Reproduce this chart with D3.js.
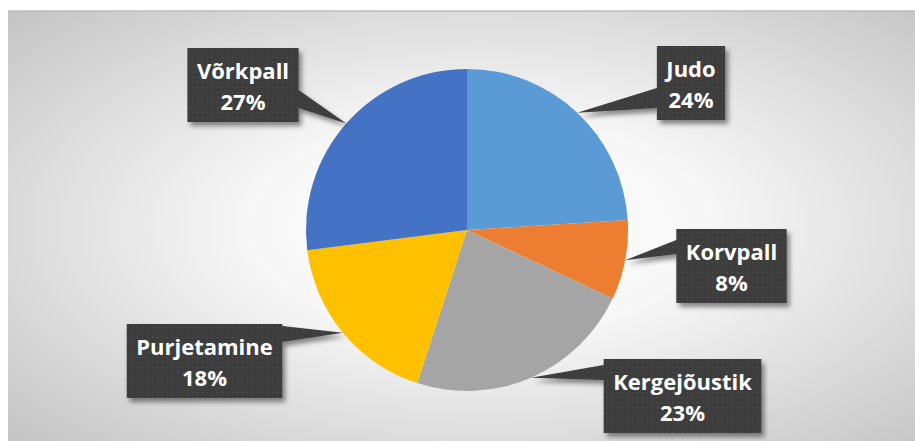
<!DOCTYPE html>
<html>
<head>
<meta charset="utf-8">
<script src="https://cdn.jsdelivr.net/npm/d3@7"></script>
<style>
  html, body { margin: 0; padding: 0; background: #fff; }
  #canvas { width: 915px; height: 441px; }
</style>
</head>
<body>
<div id="canvas"></div>
<script>
// ----- data -----
const sports = ['Judo', 'Korvpall', 'Kergejõustik', 'Purjetamine', 'Võrkpall'];
const shares = [24, 8, 23, 18, 27];
const colors = ['#5B9BD5', '#ED7D31', '#A5A5A5', '#FFC000', '#4472C4'];

// callout layout (box centre x, box top, wedge base from/to as offset from box top)
const boxCx = [691, 731.5, 682.5, 204.5, 243];
const boxTop = [46, 229, 359, 324, 48];
const wedgeBase = [[42, 62], [11, 25], [6, 21], [2, 18], [42, 60]];

const width = 915, height = 441;
const cx = 467, cy = 230, radius = 161;

const svg = d3.select('#canvas')
  .append('svg')
  .attr('width', width)
  .attr('height', height);

const defs = svg.append('defs');

// background gradient
const grad = defs.append('radialGradient')
  .attr('id', 'bg')
  .attr('cx', '0.52').attr('cy', '0.5').attr('r', '0.72');
grad.append('stop').attr('offset', '0%').attr('stop-color', '#ffffff');
grad.append('stop').attr('offset', '35%').attr('stop-color', '#f7f7f7');
grad.append('stop').attr('offset', '100%').attr('stop-color', '#c4c4c4');

// dotted pattern for the callouts
const pat = defs.append('pattern')
  .attr('id', 'dots')
  .attr('width', 5).attr('height', 5)
  .attr('patternUnits', 'userSpaceOnUse');
pat.append('rect').attr('width', 5).attr('height', 5).attr('fill', '#3d3d3d');
pat.append('rect').attr('x', 2).attr('y', 2).attr('width', 1).attr('height', 1).attr('fill', '#555');

const shadow = defs.append('filter')
  .attr('id', 'shadow')
  .attr('x', '-20%').attr('y', '-20%').attr('width', '140%').attr('height', '150%');
shadow.append('feDropShadow')
  .attr('dx', 3).attr('dy', 4).attr('stdDeviation', 2.5)
  .attr('flood-color', '#000').attr('flood-opacity', 0.45);

// plot area background
svg.append('rect')
  .attr('x', 8).attr('y', 11)
  .attr('width', width - 8).attr('height', height - 11)
  .attr('fill', 'url(#bg)');
svg.append('line')
  .attr('x1', 8).attr('x2', width)
  .attr('y1', 11).attr('y2', 11)
  .attr('stroke', '#bdbdbd').attr('stroke-width', 1.5);

// ----- pie -----
const pie = d3.pie().sort(null).value(d => d);
const arcs = pie(shares);

const arc = d3.arc().innerRadius(0).outerRadius(radius);
const edgeArc = d3.arc().innerRadius(radius).outerRadius(radius);

const g = svg.append('g')
  .attr('transform', `translate(${cx},${cy})`);

g.selectAll('path.slice')
  .data(arcs)
  .join('path')
  .attr('class', 'slice')
  .attr('fill', (d, i) => colors[i])
  .attr('d', arc);

// ----- callouts -----
const total = d3.sum(shares);
const pct = d3.format('.0%');

const labels = svg.append('g').attr('class', 'callouts');

arcs.forEach((d, i) => {
  const [tx, ty] = edgeArc.centroid(d);
  const tipX = cx + tx, tipY = cy + ty;

  const grp = labels.append('g');

  // text first so we can size the box
  const t1 = grp.append('text')
    .attr('x', boxCx[i]).attr('y', boxTop[i] + 31)
    .attr('text-anchor', 'middle')
    .style('font', 'bold 22px "Open Sans", sans-serif')
    .attr('fill', '#fff')
    .text(sports[i]);
  const t2 = grp.append('text')
    .attr('x', boxCx[i]).attr('y', boxTop[i] + 62)
    .attr('text-anchor', 'middle')
    .style('font', 'bold 22px "Open Sans", sans-serif')
    .attr('fill', '#fff')
    .text(pct(shares[i] / total));

  const w = Math.max(t1.node().getComputedTextLength(), t2.node().getComputedTextLength()) + 19;
  const h = 74;
  const x0 = boxCx[i] - w / 2, x1 = boxCx[i] + w / 2;
  const y0 = boxTop[i], y1 = boxTop[i] + h;
  const b0 = y0 + wedgeBase[i][0], b1 = y0 + wedgeBase[i][1];

  let p = d3.path();
  if (tipX > x1) {
    // wedge on right edge
    p.moveTo(x0, y0); p.lineTo(x1, y0); p.lineTo(x1, b0);
    p.lineTo(tipX, tipY); p.lineTo(x1, b1);
    p.lineTo(x1, y1); p.lineTo(x0, y1); p.closePath();
  } else {
    // wedge on left edge
    p.moveTo(x0, y0); p.lineTo(x1, y0); p.lineTo(x1, y1);
    p.lineTo(x0, y1); p.lineTo(x0, b1);
    p.lineTo(tipX, tipY); p.lineTo(x0, b0); p.closePath();
  }

  grp.insert('path', 'text')
    .attr('d', p.toString())
    .attr('fill', 'url(#dots)')
    .attr('filter', 'url(#shadow)');
});
</script>
</body>
</html>
